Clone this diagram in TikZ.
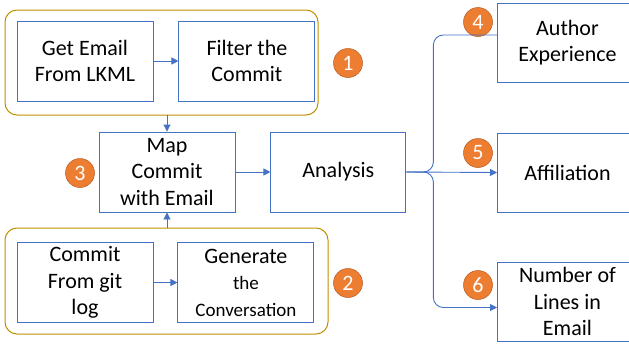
\documentclass[tikz,border=0pt]{standalone}
\usepackage{fontspec}
\setmainfont{Carlito}
\usetikzlibrary{arrows.meta,positioning,calc}
\definecolor{boxblue}{HTML}{4472C4}
\definecolor{grpgold}{HTML}{BF9000}
\definecolor{badgeorange}{HTML}{ED7D31}
\definecolor{badgeedge}{HTML}{B65A1E}
\tikzset{
  % process box: blue frame, centred text
  stepbox/.style={draw=boxblue, line width=0.9pt, rectangle, minimum width=136pt,
                  minimum height=80pt, align=center, inner sep=1pt,
                  font=\fontsize{22}{26.5}\selectfont},
  % outer box round a pair of steps
  group/.style={draw=grpgold, line width=1pt, rounded corners=12pt},
  % numbered marker
  badge/.style={circle, fill=badgeorange, draw=badgeedge, line width=0.5pt,
                minimum size=29pt, inner sep=0pt, text=white,
                font=\fontsize{22}{22}\selectfont},
  % connectors
  flowarr/.style={-{Triangle[length=7pt,width=7pt]}, draw=boxblue, line width=0.9pt},
  flowline/.style={draw=boxblue, line width=0.9pt}
}
\begin{document}
\begin{tikzpicture}[x=1pt,y=-1pt]
\useasboundingbox (0,0) rectangle (629,343);

% left column: mailing list and git log steps
\node[stepbox] (getmail) at (85,61) {Get Email\\From LKML};
\node[stepbox, right=25pt of getmail] (filter) {Filter the\\Commit};
\node[stepbox] (map) at (167,172) {Map\\Commit\\with Email};
\node[stepbox] (commit) at (85,282.5) {Commit\\From git\\log};
\node[stepbox, right=24pt of commit] (generate)
  {Generate\\{\fontsize{19}{24}\selectfont the}\\{\fontsize{19}{24}\selectfont Conversation}};

% enclosures
\draw[group] (5,10) rectangle (318,115);
\draw[group] (5,228) rectangle (328,334);
\coordinate (grpAbot) at (167,115);
\coordinate (grpBtop) at (167,228);

% middle and right column
\node[stepbox, minimum width=135pt, right=35pt of map] (analysis) {Analysis};
\node[stepbox, minimum width=140pt, minimum height=79pt, anchor=west] (author) at (497,42.5) {Author\\Experience};
\node[stepbox, minimum width=140pt, minimum height=79pt, anchor=west] (affil) at (497,172.5) {Affiliation};
\node[stepbox, minimum width=140pt, minimum height=79pt, anchor=west] (lines) at (497,301.5) {Number of\\Lines in\\Email};

% badges
\node[badge] (b1) at (348,63) {1};
\node[badge] (b2) at (348,283) {2};
\node[badge] (b3) at (80,173) {3};
\node[badge] (b4) at (478,22) {4};
\node[badge] (b5) at (478,153) {5};
\node[badge] (b6) at (478,285) {6};

% arrows
\draw[flowarr] (getmail) -- (filter);
\draw[flowarr] (commit) -- (generate);
\draw[flowarr] (grpAbot) -- (map.north);
\draw[flowarr] (grpBtop) -- (map.south);
\draw[flowarr] (map) -- (analysis);

% branching out of the analysis
\coordinate (spine) at ($(analysis.east)+(27,0)$);
\coordinate (authin) at ($(author.west)+(0,-7.5)$);
\coordinate (linesin) at ($(lines.west)+(0,6)$);
\draw[flowarr] (analysis.east) -- (affil.west);
\draw[flowline, rounded corners=10pt] (analysis.east) -| (spine |- authin) -- (authin);
\draw[flowarr, rounded corners=10pt] (analysis.east) -| (spine |- linesin) -- (linesin);

\end{tikzpicture}
\end{document}
